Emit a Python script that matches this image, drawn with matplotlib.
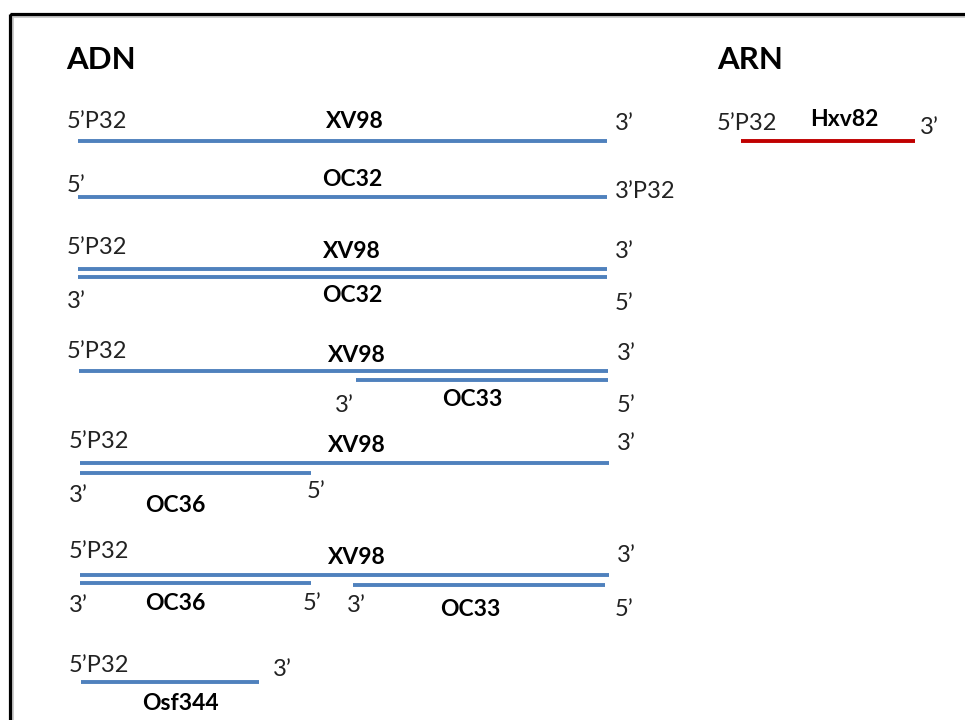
import matplotlib.pyplot as plt
from matplotlib.patches import Rectangle

plt.rcParams['font.family'] = ['Lato', 'DejaVu Sans']

BLUE = '#4f81bd'
RED = '#c00000'

# strands: x start, x end, y, colour (pixel-like units of the drawing)
strand_x0 = [78, 78, 78, 78, 79, 356, 80, 80, 80, 80, 353, 81, 741]
strand_x1 = [607, 607, 607, 607, 608, 608, 609, 311, 609, 311, 605, 259, 915]
strand_y = [141, 197, 269, 277, 371, 380, 463, 473, 575, 583, 585, 682, 141]
strand_col = [BLUE] * 12 + [RED]

# plain end labels (x left, y centre, text)
end_x = [67, 615, 67, 615,
         67, 615, 67, 615,
         67, 617, 335, 617,
         69, 617, 69, 307,
         69, 617, 69, 303, 347, 615,
         69, 273,
         717, 920]
end_y = [121, 124, 186, 191,
         248, 251, 302, 303,
         351, 353, 405, 406,
         441, 444, 495, 492,
         552, 556, 605, 603, 606, 609,
         666, 670,
         124, 128]
end_txt = ['5’P32', '3’', '5’', '3’P32',
           '5’P32', '3’', '3’', '5’',
           '5’P32', '3’', '3’', '5’',
           '5’P32', '3’', '3’', '5’',
           '5’P32', '3’', '3’', '5’', '3’', '5’',
           '5’P32', '3’',
           '5’P32', '3’']

# strand names (x centre, y centre)
name_x = [355, 352, 352, 352, 357, 472, 357, 175, 357, 175, 470, 180, 844]
name_y = [122, 180, 251, 296, 355, 400, 446, 505, 558, 603, 610, 703, 119]
name_txt = ['XV98', 'OC32', 'XV98', 'OC32', 'XV98', 'OC33', 'XV98', 'OC36',
            'XV98', 'OC36', 'OC33', 'Osf344', 'Hxv82']

fig = plt.figure(figsize=(9.65, 7.2), dpi=100)
ax = fig.add_axes([0, 0, 1, 1])
ax.set_xlim(0, 965)
ax.set_ylim(720, 0)
ax.axis('off')

# frame, running off the right and bottom edges
ax.add_patch(Rectangle((12, 16), 980, 740, fill=False, ec='#c8c8c8', lw=2))
ax.add_patch(Rectangle((10, 14), 980, 740, fill=False, ec='black', lw=2.3))

for x0, x1, y, c in zip(strand_x0, strand_x1, strand_y, strand_col):
    ax.plot([x0, x1], [y, y], color=c, lw=2.8, solid_capstyle='butt')

for x, y, t in zip(end_x, end_y, end_txt):
    ax.text(x, y, t, fontsize=17, ha='left', va='center', color='#222222')

for x, y, t in zip(name_x, name_y, name_txt):
    ax.text(x, y, t, fontsize=16.5, fontweight='bold', ha='center', va='center')

ax.text(66, 60, 'ADN', fontsize=22.5, fontweight='bold', ha='left', va='center')
ax.text(717, 60, 'ARN', fontsize=22.5, fontweight='bold', ha='left', va='center')

fig.savefig('out.png', dpi=100)
